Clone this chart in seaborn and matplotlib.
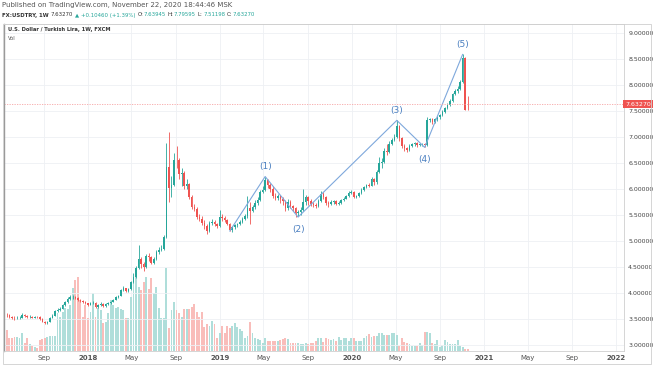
import numpy as np
import pandas as pd
import matplotlib
matplotlib.use("Agg")
import matplotlib.pyplot as plt
import matplotlib.dates as mdates
from matplotlib.patches import Rectangle
import seaborn as sns

# weekly USD/TRY bars (FXCM)
first_week = "2017-05-15"
first_open = 3.60
last_open = 7.63945

closes = [3.58,
          3.57, 3.53, 3.52, 3.51, 3.52, 3.52, 3.58, 3.56, 3.53, 3.54,
          3.52, 3.54, 3.53, 3.50, 3.45, 3.42, 3.45, 3.52, 3.56, 3.65,
          3.68, 3.70, 3.76, 3.82, 3.88, 3.92, 3.93, 3.91, 3.86, 3.84,
          3.83, 3.80, 3.77, 3.80, 3.81, 3.74, 3.77, 3.79, 3.75, 3.78,
          3.80, 3.83, 3.87, 3.92, 3.95, 4.05, 4.09, 4.03, 4.07, 4.22,
          4.30, 4.48, 4.65, 4.55, 4.50, 4.71, 4.70, 4.58, 4.65, 4.78,
          4.83, 4.85, 5.08, 6.43, 6.02, 6.08, 6.56, 6.55, 6.28, 6.30,
          6.05, 6.10, 5.84, 5.66, 5.62, 5.47, 5.43, 5.34, 5.28, 5.20,
          5.35, 5.37, 5.32, 5.29, 5.46, 5.45, 5.40, 5.33, 5.22, 5.26,
          5.30, 5.32, 5.37, 5.42, 5.48, 5.63, 5.58, 5.65, 5.74, 5.79,
          5.95, 5.98, 6.17, 6.08, 6.00, 5.87, 5.83, 5.86, 5.80, 5.76,
          5.63, 5.75, 5.67, 5.63, 5.53, 5.55, 5.60, 5.75, 5.85, 5.76,
          5.72, 5.70, 5.68, 5.77, 5.90, 5.84, 5.73, 5.71, 5.75, 5.76,
          5.72, 5.74, 5.78, 5.81, 5.86, 5.93, 5.95, 5.85, 5.86, 5.92,
          5.99, 6.03, 6.08, 6.06, 6.20, 6.13, 6.33, 6.50, 6.52, 6.74,
          6.72, 6.87, 6.95, 7.00, 7.22, 6.98, 6.82, 6.78, 6.75, 6.82,
          6.86, 6.88, 6.84, 6.86, 6.86, 6.84, 7.33, 7.34, 7.28, 7.34,
          7.38, 7.42, 7.48, 7.55, 7.62, 7.70, 7.82, 7.88, 7.93, 8.05,
          8.52, 7.5281, 7.6327]

highs = [3.62,
         3.61, 3.59, 3.56, 3.55, 3.55, 3.55, 3.62, 3.60, 3.58, 3.57,
         3.56, 3.56, 3.56, 3.55, 3.52, 3.47, 3.47, 3.54, 3.60, 3.68,
         3.72, 3.73, 3.79, 3.85, 3.92, 3.97, 3.96, 3.95, 3.93, 3.88,
         3.86, 3.85, 3.81, 3.82, 3.84, 3.83, 3.79, 3.82, 3.81, 3.80,
         3.82, 3.85, 3.89, 3.94, 3.97, 4.08, 4.13, 4.10, 4.10, 4.24,
         4.38, 4.52, 4.92, 4.70, 4.60, 4.75, 4.76, 4.72, 4.70, 4.82,
         4.88, 4.93, 5.12, 6.88, 7.10, 6.25, 6.70, 6.82, 6.60, 6.40,
         6.35, 6.20, 6.12, 5.88, 5.72, 5.65, 5.52, 5.48, 5.40, 5.32,
         5.38, 5.42, 5.40, 5.35, 5.60, 5.52, 5.48, 5.42, 5.35, 5.29,
         5.33, 5.35, 5.40, 5.46, 5.52, 5.86, 5.75, 5.70, 5.78, 5.84,
         5.98, 6.05, 6.24, 6.20, 6.12, 6.05, 5.92, 5.90, 5.88, 5.84,
         5.78, 5.80, 5.78, 5.69, 5.65, 5.60, 5.66, 6.00, 5.88, 5.87,
         5.80, 5.75, 5.74, 5.80, 5.97, 5.95, 5.86, 5.76, 5.78, 5.79,
         5.78, 5.76, 5.80, 5.84, 5.89, 5.96, 5.99, 5.97, 5.89, 5.94,
         6.01, 6.06, 6.10, 6.11, 6.24, 6.22, 6.36, 6.62, 6.60, 6.78,
         6.86, 6.92, 6.99, 7.05, 7.32, 7.24, 7.00, 6.86, 6.80, 6.86,
         6.89, 6.90, 6.90, 6.88, 6.88, 6.88, 7.38, 7.36, 7.37, 7.37,
         7.41, 7.45, 7.51, 7.58, 7.66, 7.74, 7.85, 7.92, 7.98, 8.10,
         8.59, 8.54, 7.79595]

lows = [3.56,
        3.54, 3.51, 3.50, 3.49, 3.50, 3.50, 3.51, 3.54, 3.52, 3.52,
        3.51, 3.51, 3.51, 3.48, 3.44, 3.40, 3.41, 3.44, 3.51, 3.55,
        3.63, 3.66, 3.69, 3.75, 3.80, 3.86, 3.89, 3.88, 3.84, 3.82,
        3.80, 3.78, 3.75, 3.76, 3.78, 3.72, 3.72, 3.75, 3.74, 3.74,
        3.77, 3.79, 3.82, 3.86, 3.90, 3.94, 4.03, 4.01, 4.02, 4.06,
        4.20, 4.28, 4.46, 4.48, 4.42, 4.48, 4.62, 4.55, 4.55, 4.63,
        4.75, 4.80, 4.83, 5.05, 5.75, 5.85, 6.05, 6.40, 6.20, 6.05,
        6.00, 6.00, 5.80, 5.62, 5.58, 5.42, 5.38, 5.30, 5.24, 5.14,
        5.18, 5.30, 5.28, 5.25, 5.27, 5.38, 5.36, 5.30, 5.19, 5.18,
        5.23, 5.27, 5.30, 5.35, 5.40, 5.45, 5.32, 5.55, 5.62, 5.70,
        5.77, 5.92, 5.96, 6.02, 5.95, 5.83, 5.78, 5.78, 5.74, 5.70,
        5.58, 5.60, 5.63, 5.57, 5.46, 5.48, 5.50, 5.57, 5.70, 5.70,
        5.68, 5.66, 5.64, 5.66, 5.75, 5.80, 5.70, 5.66, 5.69, 5.72,
        5.70, 5.70, 5.72, 5.76, 5.80, 5.84, 5.90, 5.82, 5.82, 5.84,
        5.90, 5.96, 6.01, 6.03, 6.05, 6.08, 6.10, 6.30, 6.40, 6.50,
        6.66, 6.70, 6.84, 6.92, 6.98, 6.92, 6.78, 6.74, 6.72, 6.73,
        6.80, 6.83, 6.81, 6.82, 6.83, 6.80, 6.82, 7.28, 7.25, 7.26,
        7.31, 7.35, 7.40, 7.46, 7.53, 7.60, 7.68, 7.80, 7.85, 7.91,
        8.03, 7.52, 7.51198]

volumes = [24, 21, 13, 13, 14, 14, 13, 18, 8, 13,
           7, 5, 4, 3, 11, 12, 13, 14, 15, 15,
           15, 38, 34, 39, 43, 42, 46, 63, 71, 74,
           51, 34, 46, 33, 39, 58, 34, 43, 41, 28,
           29, 38, 51, 46, 43, 44, 42, 41, 33, 33,
           54, 73, 79, 64, 61, 69, 74, 62,
           73, 58, 64, 43, 33, 33, 83, 23, 41, 49,
           41, 38, 34, 42, 42, 42, 44, 47, 39, 34,
           39, 24, 27, 25, 30, 27, 13, 18, 25, 18,
           25, 23, 25, 28, 24, 22, 20, 13, 15, 29,
           18, 13, 12, 11, 8, 13, 10, 10, 10, 10,
           10, 11, 12, 13, 12, 8, 8, 8, 8, 7,
           7, 8, 7,
           8, 8, 10, 13, 13, 9, 13, 12, 11, 12,
           10, 14, 11, 13, 13, 10, 13, 13, 10, 10,
           10, 13, 15, 17, 14, 15, 15, 18, 18, 16,
           16, 16, 18, 18, 16, 5, 13, 9, 8, 7,
           5, 5, 5, 8, 6, 19, 19, 18, 8, 7,
           11, 4, 6, 11, 9, 7, 7, 7, 11, 5,
           4, 2, 2]

# Elliott wave drawing
wave_dates = ["2019-01-28", "2019-05-06", "2019-08-05", "2020-05-04", "2020-07-20", "2020-11-02"]
wave_prices = [5.19, 6.24, 5.46, 7.32, 6.80, 8.59]
wave_labels = ["", "(1)", "(2)", "(3)", "(4)", "(5)"]

tick_dates = ["2017-09-01", "2018-01-01", "2018-05-01", "2018-09-01", "2019-01-01",
              "2019-05-01", "2019-09-01", "2020-01-01", "2020-05-01", "2020-09-01",
              "2021-01-01", "2021-05-01", "2021-09-01", "2022-01-01"]
tick_labels = ["Sep", "2018", "May", "Sep", "2019", "May", "Sep", "2020",
               "May", "Sep", "2021", "May", "Sep", "2022"]
price_ticks = [3.0, 3.5, 4.0, 4.5, 5.0, 5.5, 6.0, 6.5, 7.0, 7.5, 8.0, 8.5, 9.0]

header_parts = [("FX:USDTRY, 1W", "#333333", "bold"), ("7.63270", "#333333", "normal"),
                ("\u25b2", "#26a69a", "normal"), ("+0.10460 (+1.39%)", "#26a69a", "normal"),
                ("O:", "#333333", "normal"), ("7.63945", "#26a69a", "normal"),
                ("H:", "#333333", "normal"), ("7.79595", "#26a69a", "normal"),
                ("L:", "#333333", "normal"), ("7.51198", "#26a69a", "normal"),
                ("C:", "#333333", "normal"), ("7.63270", "#26a69a", "normal")]

sns.set_theme(style="white")
plt.rcParams['font.family'] = ['DejaVu Sans']

dates = pd.date_range(first_week, periods=len(closes), freq="7D")
opens = [first_open] + closes[:-1]
opens[-1] = last_open
df = pd.DataFrame({"date": dates, "open": opens, "high": highs, "low": lows,
                   "close": closes, "volume": volumes})
df["x"] = mdates.date2num(df["date"])
up = (df["close"] >= df["open"]).values

W, H = 654, 366
fig = plt.figure(figsize=(W / 100, H / 100), dpi=100)
L, R, T, B = 4, 624, 24, 351
rect = [L / W, 1 - B / H, (R - L) / W, (B - T) / H]
ax_v = fig.add_axes(rect)
ax = fig.add_axes(rect, sharex=ax_v)
ax.patch.set_alpha(0)

# volume pane
ax_v.bar(df["x"], df["volume"], width=5.2, color=np.where(up, "#afdeda", "#f9bdba"), linewidth=0)
ax_v.set_ylim(0, df["volume"].max() * (B - T) / 83)
ax_v.set_yticks([])
ax_v.grid(axis="x", color="#eef0f4", lw=0.6)
ax_v.set_axisbelow(True)
for s in ax_v.spines.values():
    s.set_visible(False)

# candles
cc = np.where(up, "#26a69a", "#ef5350")
ax.vlines(df["x"], df["low"], df["high"], colors=cc, lw=0.6)
body = (df["close"] - df["open"]).abs().clip(lower=0.008)
ax.bar(df["x"], body, bottom=np.minimum(df["open"], df["close"]), width=4.2, color=cc, linewidth=0)

# wave count
wave_df = pd.DataFrame({"x": mdates.date2num(pd.to_datetime(wave_dates)), "price": wave_prices})
sns.lineplot(data=wave_df, x="x", y="price", sort=False, estimator=None,
             color="#7ea8dc", lw=0.8, ax=ax)
for i, (wx, wp, lab) in enumerate(zip(wave_df["x"], wave_prices, wave_labels)):
    if lab:
        dy = 7 if i % 2 == 1 else -9
        ax.annotate(lab, (wx, wp), xytext=(0, dy), textcoords="offset points",
                    ha="center", va="center", fontsize=6.5, color="#4a7fc0")

last_close = closes[-1]
ax.axhline(last_close, color="#f6a5a5", lw=0.6, ls=(0, (1.5, 1.5)))

ax.set_xlim(mdates.date2num(pd.Timestamp("2017-05-14")), mdates.date2num(pd.Timestamp("2022-01-22")))
ax.set_ylim(2.885, 9.173)
ax.set_xlabel("")
ax.set_ylabel("")

ax.yaxis.tick_right()
ax.set_yticks(price_ticks)
ax.set_yticklabels([f"{v:.5f}" for v in price_ticks])
ax.tick_params(axis="y", length=0, pad=3, labelsize=4.5, labelcolor="#444444")
ax.grid(axis="y", color="#eef0f4", lw=0.6)

ax_v.set_xticks(mdates.date2num(pd.to_datetime(tick_dates)))
ax_v.set_xticklabels(tick_labels)
ax_v.tick_params(axis="x", length=0, pad=3, labelsize=5.0, labelcolor="#555555")
ax.tick_params(axis="x", labelbottom=False, length=0)
for lab in ax_v.get_xticklabels():
    if lab.get_text().isdigit():
        lab.set_fontweight("bold")

for s in ax.spines.values():
    s.set_color("#cfcfcf")
    s.set_linewidth(0.6)
ax.spines["left"].set_color("#9a9a9a")
ax.spines["left"].set_linewidth(1.0)

ax.text(1.0 + 1.0 / (R - L), last_close, f"{last_close:.5f}", transform=ax.get_yaxis_transform(),
        ha="left", va="center", fontsize=4.5, color="white",
        bbox=dict(boxstyle="square,pad=0.3", fc="#ef5350", ec="none"))

# outer frame
fig.add_artist(Rectangle((3 / W, 1 - 364 / H), 648 / W, 340 / H, transform=fig.transFigure,
                         fill=False, ec="#cfcfcf", lw=0.6))

# header
fig.text(2 / W, 1 - 5 / H, "Published on TradingView.com, November 22, 2020 18:44:46 MSK",
         fontsize=5, color="#555555", va="center")
renderer = fig.canvas.get_renderer()
xpos = 2
for txt, col, wt in header_parts:
    t = fig.text(xpos / W, 1 - 15 / H, txt, fontsize=3.9, color=col, fontweight=wt, va="center")
    gap = 0.3 if txt.endswith(":") else 2.0
    xpos += t.get_window_extent(renderer).width + gap

fig.text(8 / W, 1 - 30 / H, "U.S. Dollar / Turkish Lira, 1W, FXCM", fontsize=3.7,
         fontweight="bold", color="#333333", va="center")
fig.text(8 / W, 1 - 38 / H, "Vol", fontsize=3.7, color="#555555", va="center")

fig.savefig("out.png", dpi=100)
